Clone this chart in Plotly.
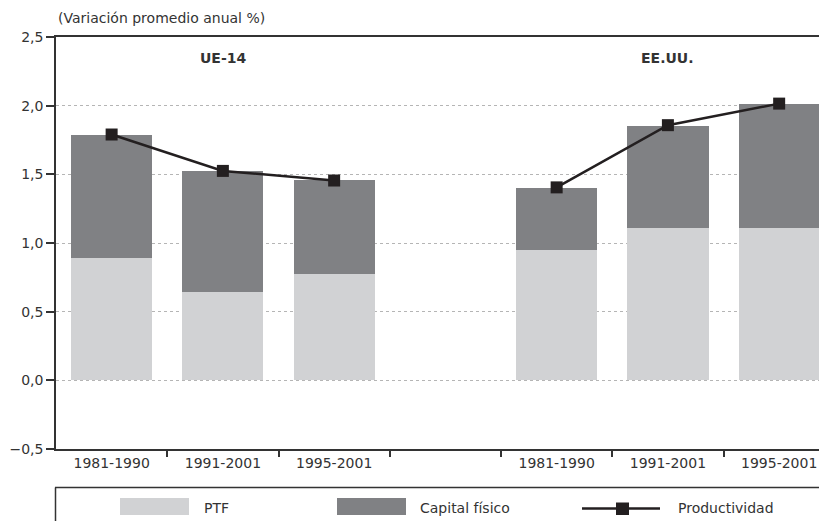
import plotly.graph_objects as go

# ---- data ----
periods = ["1981-1990", "1991-2001", "1995-2001", "", "1981-1990", "1991-2001", "1995-2001"]
slot_pos = [0, 1, 2, 3, 4, 5, 6]
groups = ["UE-14", "EE.UU."]
group_center = [1, 5]
ptf = [0.89, 0.64, 0.775, None, 0.95, 1.11, 1.11]
capital = [0.895, 0.885, 0.685, None, 0.45, 0.74, 0.90]
productividad_ue = [1.79, 1.525, 1.455]
productividad_us = [1.405, 1.858, 2.015]
series_names = ["PTF", "Capital físico", "Productividad"]

C_PTF = "#d1d2d4"
C_CAP = "#808184"
C_LINE = "#231f20"
TXT = "#333333"
FONT = "DejaVu Sans, Arial, sans-serif"

OFF = 8  # page body margin
W, H = 827 - OFF, 521 - OFF
ML, MT = 56 - OFF, 37 - OFF
MB = H - (449 - OFF)
MR = 0
PW = W - ML - MR
PH = H - MT - MB


def px(xp):
    return (xp - OFF - ML) / PW


def py(yp):
    return (H - MB - (yp - OFF)) / PH


fig = go.Figure()
fig.add_trace(go.Bar(x=slot_pos, y=ptf, name=series_names[0], marker_color=C_PTF,
                     marker_line_width=0, width=0.73, showlegend=False))
fig.add_trace(go.Bar(x=slot_pos, y=capital, name=series_names[1], marker_color=C_CAP,
                     marker_line_width=0, width=0.73, showlegend=False))
for xs, ys in [(slot_pos[0:3], productividad_ue), (slot_pos[4:7], productividad_us)]:
    fig.add_trace(go.Scatter(x=xs, y=ys, mode="lines+markers", name=series_names[2],
                             line=dict(color=C_LINE, width=2.5),
                             marker=dict(symbol="square", size=12, color=C_LINE),
                             showlegend=False))
# invisible trace on xaxis2 to carry boundary ticks
fig.add_trace(go.Scatter(x=[0], y=[None], xaxis="x2", showlegend=False, hoverinfo="skip"))

XR = [-0.5, 6.43]
fig.update_layout(
    width=W, height=H, barmode="stack", bargap=0,
    margin=dict(l=ML, r=MR, t=MT, b=MB, autoexpand=False),
    paper_bgcolor="white", plot_bgcolor="white",
    separators=",.",
    font=dict(family=FONT, size=14, color=TXT),
    xaxis=dict(range=XR, tickvals=[p for p, l in zip(slot_pos, periods) if l],
               ticktext=[l for l in periods if l], ticks="", showgrid=False, zeroline=False,
               showline=True, linecolor=TXT, linewidth=1.5, mirror=True,
               tickfont=dict(size=14, color=TXT)),
    xaxis2=dict(overlaying="x", matches="x", range=XR, anchor="y",
                tickvals=[0.5, 1.5, 2.5, 3.5, 4.5, 5.5], ticks="outside", ticklen=7,
                tickwidth=1.5, tickcolor=TXT, showticklabels=False, showgrid=False,
                zeroline=False, showline=False, side="bottom"),
    yaxis=dict(range=[-0.5, 2.5], tickvals=[-0.5, 0, 0.5, 1, 1.5, 2, 2.5], tickformat=".1f",
               ticks="outside", ticklen=8, tickwidth=1.5, tickcolor=TXT,
               showline=True, linecolor=TXT, linewidth=1.5,
               showgrid=True, gridcolor="#b5b5b5", gridwidth=1, griddash="3px,3px",
               zeroline=False, tickfont=dict(size=14, color=TXT)),
)

annotations = [
    dict(text="(Variación promedio anual %)", xref="paper", yref="paper", x=px(56), y=py(18),
         xanchor="left", yanchor="middle", showarrow=False, font=dict(size=14, color=TXT)),
]
for g, c in zip(groups, group_center):
    annotations.append(dict(text="<b>%s</b>" % g, x=c, y=py(57.5), xref="x", yref="paper",
                            xanchor="center", yanchor="middle",
                            showarrow=False, font=dict(size=14, color=TXT)))

# manual legend
shapes = [
    dict(type="line", xref="paper", yref="paper", x0=px(55), x1=px(830), y0=py(487.5), y1=py(487.5),
         line=dict(color=TXT, width=1.5)),
    dict(type="line", xref="paper", yref="paper", x0=px(55.5), x1=px(55.5), y0=py(487.5), y1=py(530),
         line=dict(color=TXT, width=1.5)),
    dict(type="rect", xref="paper", yref="paper", x0=px(120), x1=px(189), y0=py(515), y1=py(498),
         fillcolor=C_PTF, line=dict(width=0)),
    dict(type="rect", xref="paper", yref="paper", x0=px(337), x1=px(406), y0=py(515), y1=py(498),
         fillcolor=C_CAP, line=dict(width=0)),
    dict(type="line", xref="paper", yref="paper", x0=px(582), x1=px(660), y0=py(508.5), y1=py(508.5),
         line=dict(color=C_LINE, width=2.5)),
    dict(type="rect", xref="paper", yref="paper", x0=px(616), x1=px(629), y0=py(515), y1=py(502.5),
         fillcolor=C_LINE, line=dict(width=0)),
]
for name, xl in zip(series_names, [202, 418, 676]):
    annotations.append(dict(text=name, xref="paper", yref="paper", x=px(xl), y=py(507.5),
                            xanchor="left", yanchor="middle", showarrow=False,
                            font=dict(size=14, color=TXT)))

fig.update_layout(annotations=annotations, shapes=shapes)
fig.write_html("out.html")
